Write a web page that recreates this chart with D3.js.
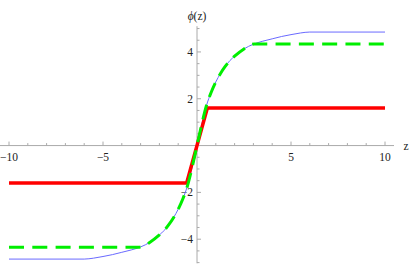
<!DOCTYPE html>
<html><head><meta charset="utf-8">
<script src="https://cdn.jsdelivr.net/npm/d3@7"></script>
<style>
html,body{margin:0;padding:0;background:#fff;}
svg{display:block;}
</style></head>
<body><svg id="c" width="409" height="266"></svg>
<script>
// Blue curve phi(z) (antisymmetric), right half sampled
const blueZ   = [0, 0.25, 0.5, 0.75, 1.0, 1.25, 1.5, 1.75, 2.0, 2.5, 3.0, 3.5, 4.0, 4.5, 5.0, 5.5, 6.0, 10];
const bluePhi = [0, 0.9, 1.7, 2.27, 2.72, 3.08, 3.38, 3.63, 3.82, 4.13, 4.33, 4.46, 4.56, 4.66, 4.74, 4.81, 4.85, 4.85];
// Green dashed: curve capped at the plateau
const greenZ   = [0, 0.25, 0.5, 0.75, 1.0, 1.25, 1.5, 1.75, 2.0, 2.5, 3.05, 10];
const greenPhi = [0, 0.9, 1.7, 2.27, 2.72, 3.08, 3.38, 3.63, 3.82, 4.13, 4.34, 4.34];
// Red thick: linear ramp capped
const redZ   = [-10, -0.55, 0.55, 10];
const redPhi = [-1.6, -1.6, 1.6, 1.6];
// Ticks
const xMajor = [-10, -5, 5, 10];
const yMajor = [-4, -2, 2, 4];

const FONT = "'Liberation Serif', 'DejaVu Serif', serif";

function sym(zs, ps){
  const pts = [];
  for (let i = zs.length-1; i > 0; i--) pts.push([-zs[i], -ps[i]]);
  for (let i = 0; i < zs.length; i++) pts.push([zs[i], ps[i]]);
  return pts;
}

const svg = d3.select("#c");
const x = d3.scaleLinear().domain([-10, 10]).range([9, 385]);
const y = d3.scaleLinear().domain([-5.03, 5.1]).range([263.3, 26.2]);
const axisColor = "#aaa";

// x axis
svg.append("line").attr("x1", 0).attr("x2", 394).attr("y1", y(0)).attr("y2", y(0))
  .attr("stroke", axisColor).attr("stroke-width", 1);
d3.range(-10, 11, 1).filter(v => v !== 0).forEach(v => {
  const major = xMajor.includes(v);
  svg.append("line").attr("x1", x(v)).attr("x2", x(v))
    .attr("y1", y(0)).attr("y2", y(0) - (major ? 4 : 2.5))
    .attr("stroke", axisColor).attr("stroke-width", 1);
});
xMajor.forEach(v => {
  svg.append("text").attr("x", x(v)).attr("y", y(0) + 15)
    .attr("text-anchor", "middle").attr("font-size", 11.5).attr("font-family", FONT).attr("fill", "#222")
    .text(v < 0 ? "\u2212" + Math.abs(v) : String(v));
});
svg.append("text").attr("x", 406).attr("y", y(0) + 4).attr("text-anchor", "middle")
  .attr("font-size", 11.5).attr("font-family", FONT).attr("fill", "#222").text("z");

// y axis
svg.append("line").attr("x1", x(0)).attr("x2", x(0)).attr("y1", y(-5.03)).attr("y2", y(5.1))
  .attr("stroke", axisColor).attr("stroke-width", 1);
d3.range(-10, 11, 1).map(v => v / 2).filter(v => v !== 0).forEach(v => {
  const major = yMajor.includes(v);
  svg.append("line").attr("x1", x(0)).attr("x2", x(0) + (major ? 4 : 2.5))
    .attr("y1", y(v)).attr("y2", y(v))
    .attr("stroke", axisColor).attr("stroke-width", 1);
});
yMajor.forEach(v => {
  svg.append("text").attr("x", x(0) - 4).attr("y", y(v) + 4)
    .attr("text-anchor", "end").attr("font-size", 11.5).attr("font-family", FONT).attr("fill", "#222")
    .text(v < 0 ? "\u2212" + Math.abs(v) : String(v));
});
const lab = svg.append("text").attr("x", x(0)).attr("y", 20).attr("text-anchor", "middle")
  .attr("font-size", 11.5).attr("font-family", FONT).attr("fill", "#222");
lab.append("tspan").attr("font-style", "italic").text("\u03D5");
lab.append("tspan").text("(z)");

const line = d3.line().x(d => x(d[0])).y(d => y(d[1])).curve(d3.curveMonotoneX);

svg.append("path").attr("d", line(sym(blueZ, bluePhi)))
  .attr("fill", "none").attr("stroke", "#6a6aff").attr("stroke-width", 1);
svg.append("path").attr("d", d3.line().x(d => x(d[0])).y(d => y(d[1]))(redZ.map((z, i) => [z, redPhi[i]])))
  .attr("fill", "none").attr("stroke", "#ff0000").attr("stroke-width", 3.5);
svg.append("path").attr("d", line(sym(greenZ, greenPhi)))
  .attr("fill", "none").attr("stroke", "#00ee00").attr("stroke-width", 3)
  .attr("stroke-dasharray", "15,8.3");
</script></body></html>
